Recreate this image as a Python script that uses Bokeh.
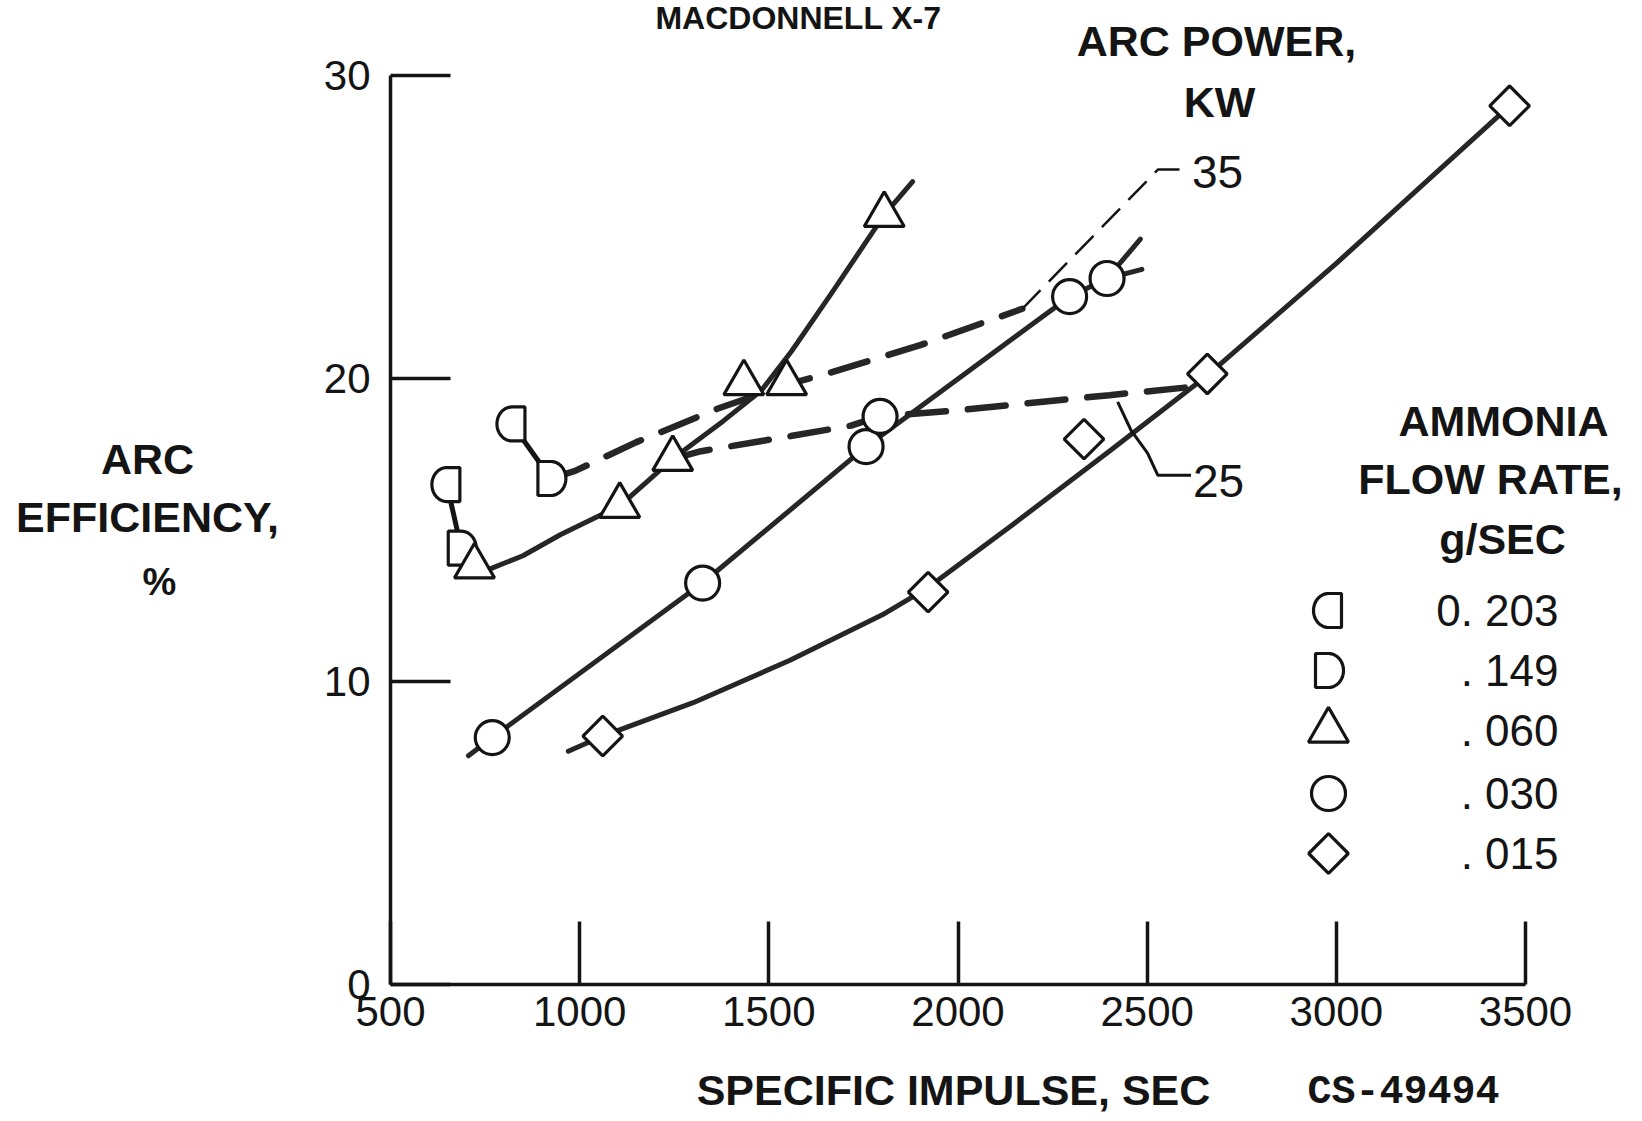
import numpy as np
from bokeh.plotting import figure
from bokeh.models import Range1d, Label, FixedTicker
from bokeh.embed import file_html
from bokeh.resources import INLINE

# ---------------- data ----------------
isp_ticks = [500, 1000, 1500, 2000, 2500, 3000, 3500]
eff_ticks = [0, 10, 20, 30]

flow_labels = ["0. 203", ". 149", ". 060", ". 030", ". 015"]

# measured points, specific impulse (sec) vs arc efficiency (%)
isp_203 = [649, 821]
eff_203 = [16.5, 18.5]
isp_149 = [687, 924]
eff_149 = [14.4, 16.7]
isp_060 = [722, 1106, 1246, 1434, 1547, 1805]
eff_060 = [13.8, 15.8, 17.35, 19.85, 19.85, 25.4]
isp_030 = [769, 1325, 1757, 1794, 2295, 2394]
eff_030 = [8.15, 13.25, 17.75, 18.75, 22.7, 23.3]
isp_015 = [1061, 1921, 2333, 2659, 3458]
eff_015 = [8.2, 12.95, 18.0, 20.15, 29.0]

# faired curves (constant flow rate)
curve_060_isp = [700, 760, 850, 950, 1106, 1246, 1380, 1480, 1560, 1665, 1805, 1880]
curve_060_eff = [13.5, 13.7, 14.15, 14.85, 15.8, 17.35, 18.6, 19.6, 20.9, 22.8, 25.4, 26.5]
curve_030_isp = [706, 769, 1325, 1757, 2295, 2394]
curve_030_eff = [7.55, 8.15, 13.25, 17.75, 22.7, 23.3]
stub_a_isp = [2394, 2482]
stub_a_eff = [23.3, 24.6]
stub_b_isp = [2394, 2486]
stub_b_eff = [23.3, 23.6]
curve_015_isp = [970, 1061, 1300, 1556, 1800, 1921, 2147, 2400, 2659, 3000, 3458]
curve_015_eff = [7.7, 8.2, 9.3, 10.7, 12.2, 13.1, 15.2, 17.6, 20.1, 23.8, 29.0]

# constant arc power curves (kW)
power_35_isp = [924, 988, 1150, 1364, 1547, 1665, 1900, 2170]
power_35_eff = [16.7, 16.95, 17.9, 19.0, 19.8, 20.2, 21.1, 22.3]
power_25_isp = [1246, 1321, 1558, 1719, 1794, 2000, 2238, 2400, 2600, 2659]
power_25_eff = [17.35, 17.6, 18.1, 18.45, 18.75, 18.95, 19.25, 19.45, 19.7, 20.15]
lead_35_isp = [2170, 2529, 2600]
lead_35_eff = [22.3, 26.9, 26.9]
lead_25_isp = [2422, 2457, 2501, 2528, 2616]
lead_25_eff = [19.23, 18.3, 17.54, 16.81, 16.81]

# ---------------- layout ----------------
W, H = 1642, 1121
AX_X, AX_Y = 390, 984        # pixel position of the axes corner (500 s, 0 %)
XS = 1135 / 3000.0           # px per sec
YS = 909 / 30.0              # px per %


def xd(px):
    return 500 + (px - AX_X) / XS


def yd(py):
    return (AX_Y - py) / YS


FONT = "Liberation Sans"
INK = "#141414"

p = figure(width=W, height=H, x_range=Range1d(xd(0), xd(W)), y_range=Range1d(yd(H), yd(0)),
           output_backend="svg", toolbar_location=None, min_border=0)
p.outline_line_color = None
p.grid.visible = False
p.background_fill_color = "white"
p.border_fill_color = "white"

p.xaxis.fixed_location = 0
p.yaxis.fixed_location = 500
for ax, ticks, bounds, tin, stand in ((p.xaxis, isp_ticks, (500, 3500), 63, 12),
                                      (p.yaxis, eff_ticks, (0, 30), 60, 20)):
    ax.ticker = FixedTicker(ticks=ticks)
    ax.bounds = bounds
    ax.major_tick_in = tin
    ax.major_tick_out = 0
    ax.minor_tick_line_color = None
    ax.axis_line_width = 3.5
    ax.axis_line_color = INK
    ax.major_tick_line_width = 3.5
    ax.major_tick_line_color = INK
    ax.major_label_standoff = stand
    ax.major_label_text_font = FONT
    ax.major_label_text_font_size = "42px"
    ax.major_label_text_color = INK

# ---------------- curves ----------------
solid = dict(line_color="#262626", line_width=5, line_cap="round", line_join="round")
p.line(curve_060_isp, curve_060_eff, **solid)
p.line(curve_030_isp, curve_030_eff, **solid)
p.line(stub_a_isp, stub_a_eff, **solid)
p.line(stub_b_isp, stub_b_eff, **solid)
p.line(curve_015_isp, curve_015_eff, **solid)

dashed = dict(line_color="#262626", line_width=6.5, line_dash="38 22", line_cap="round")
p.line(power_35_isp, power_35_eff, **dashed)
p.line(power_25_isp, power_25_eff, **dashed)
p.line(lead_35_isp, lead_35_eff, line_color=INK, line_width=2.5, line_dash="26 12")
p.line(lead_25_isp, lead_25_eff, line_color=INK, line_width=3)

# tails linking 0.203 and 0.149 points
for (x1, y1), (x2, y2) in zip(zip(isp_203, eff_203), zip(isp_149, eff_149)):
    p.line([x1, x2], [y1, y2], line_color=INK, line_width=5)


# ---------------- markers ----------------
def d_shape(cx, cy, mirror=False, w=13, rx=15, ry=17):
    t = np.linspace(np.pi / 2, -np.pi / 2, 25)
    dx = [-w, -w, 0] + list(rx * np.cos(t))
    dy = [-ry, ry, ry] + list(ry * np.sin(t))
    s = -1 if mirror else 1
    return [cx + s * a / XS for a in dx], [cy + b / YS for b in dy]


mk = dict(fill_color="white", line_color=INK, line_width=3.2)


def draw_d(xs, ys, mirror):
    px, py = [], []
    for cx, cy in zip(xs, ys):
        a, b = d_shape(cx, cy, mirror)
        px.append(a)
        py.append(b)
    p.patches(px, py, **mk)


draw_d(isp_203, eff_203, True)
draw_d(isp_149, eff_149, False)
p.scatter(isp_060, eff_060, marker="triangle", size=40, **mk)
p.scatter(isp_030, eff_030, marker="circle", size=34, **mk)
p.scatter(isp_015, eff_015, marker="square", angle=np.pi / 4, size=28, **mk)

# ---------------- legend ----------------
leg_x = xd(1328)
rows = [610, 670, 730, 793, 853]
draw_d([leg_x], [yd(rows[0])], True)
draw_d([leg_x], [yd(rows[1])], False)
p.scatter([leg_x], [yd(rows[2])], marker="triangle", size=40, **mk)
p.scatter([leg_x], [yd(rows[3])], marker="circle", size=34, **mk)
p.scatter([leg_x], [yd(rows[4])], marker="square", angle=np.pi / 4, size=28, **mk)
for lab_text, r in zip(flow_labels, rows):
    p.add_layout(Label(x=xd(1558), y=yd(r), text=lab_text, text_align="right", text_baseline="middle",
                       text_font=FONT, text_font_size="44px", text_color=INK))


def lab(px, py, text, size="43px", font=FONT, style="bold", align="center"):
    p.add_layout(Label(x=xd(px), y=yd(py), text=text, text_align=align, text_baseline="middle",
                       text_font=font, text_font_size=size, text_font_style=style, text_color=INK))


lab(1503, 420, "AMMONIA")
lab(1490, 478, "FLOW RATE,")
lab(1502, 538, "g/SEC")

lab(1216, 40, "ARC POWER,")
lab(1219, 101, "KW")
lab(1217, 171, "35", size="46px", style="normal")
lab(1218, 480, "25", size="46px", style="normal")

lab(147, 458, "ARC")
lab(147, 516, "EFFICIENCY,")
lab(159, 581, "%", size="38px")

lab(953, 1089, "SPECIFIC IMPULSE, SEC")
lab(1403, 1092, "CS-49494", size="40px", font="Liberation Mono")

# title at the very top of the sheet (cut by the scan in the original)
lab(798, 17, "MACDONNELL X-7", size="32px")

open("out.html", "w").write(file_html(p, INLINE))
